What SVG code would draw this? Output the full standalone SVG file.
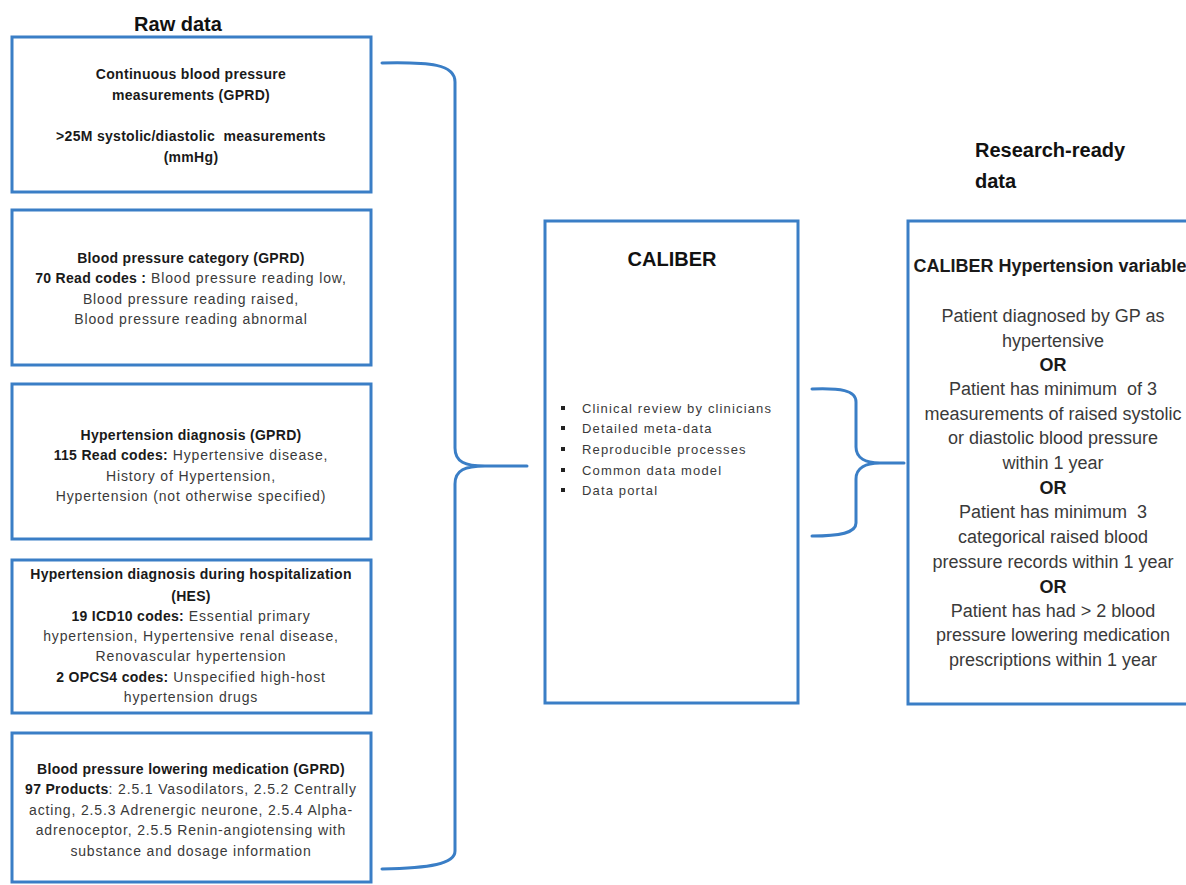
<svg xmlns="http://www.w3.org/2000/svg" width="1186" height="885" viewBox="0 0 1186 885">
<style>
.box{fill:#fff;stroke:#3a7ec6;stroke-width:3}
.br{fill:none;stroke:#3a7ec6;stroke-width:3;stroke-linecap:round;stroke-linejoin:round}
text{font-family:"Liberation Sans",Arial,sans-serif;fill:#3a3a3a}
.l{font-size:14px;text-anchor:middle;letter-spacing:0.85px}
.b{font-weight:bold;fill:#1a1a1a;letter-spacing:0.3px}
.h{font-size:20px;font-weight:bold;fill:#111}
.bu{font-size:13px;letter-spacing:1.15px}
.r{font-size:18px;text-anchor:middle}
.rb{font-weight:bold;fill:#1a1a1a}
</style>
<rect width="1186" height="885" fill="#fff"/>
<text class="h" x="178" y="31" text-anchor="middle">Raw data</text>
<text class="h" x="975" y="157">Research-ready</text>
<text class="h" x="975" y="188">data</text>

<g id="n1">
<rect class="box" x="12" y="37" width="359" height="155"/>
<text class="l b" x="191" y="79">Continuous blood pressure</text>
<text class="l b" x="191" y="100">measurements (GPRD)</text>
<text class="l b" x="191" y="141">&gt;25M systolic/diastolic&#160; measurements</text>
<text class="l b" x="191" y="162">(mmHg)</text>
</g>
<g id="n2">
<rect class="box" x="12" y="210" width="359" height="155"/>
<text class="l b" x="191" y="263">Blood pressure category (GPRD)</text>
<text class="l" x="191" y="283"><tspan class="b">70 Read codes :</tspan> Blood pressure reading low,</text>
<text class="l" x="191" y="304">Blood pressure reading raised,</text>
<text class="l" x="191" y="324">Blood pressure reading abnormal</text>
</g>
<g id="n3">
<rect class="box" x="12" y="384" width="359" height="155"/>
<text class="l b" x="191" y="440">Hypertension diagnosis (GPRD)</text>
<text class="l" x="191" y="460"><tspan class="b">115 Read codes:</tspan> Hypertensive disease,</text>
<text class="l" x="191" y="481">History of Hypertension,</text>
<text class="l" x="191" y="501">Hypertension (not otherwise specified)</text>
</g>
<g id="n4">
<rect class="box" x="12" y="560" width="359" height="153"/>
<text class="l b" x="191" y="579">Hypertension diagnosis during hospitalization</text>
<text class="l b" x="191" y="601">(HES)</text>
<text class="l" x="191" y="621"><tspan class="b">19 ICD10 codes:</tspan> Essential primary</text>
<text class="l" x="191" y="641">hypertension, Hypertensive renal disease,</text>
<text class="l" x="191" y="661">Renovascular hypertension</text>
<text class="l" x="191" y="682"><tspan class="b">2 OPCS4 codes:</tspan> Unspecified high-host</text>
<text class="l" x="191" y="702">hypertension drugs</text>
</g>
<g id="n5">
<rect class="box" x="12" y="733" width="359" height="149"/>
<text class="l b" x="191" y="774">Blood pressure lowering medication (GPRD)</text>
<text class="l" x="191" y="794"><tspan class="b">97 Products</tspan>: 2.5.1 Vasodilators, 2.5.2 Centrally</text>
<text class="l" x="191" y="815">acting, 2.5.3 Adrenergic neurone, 2.5.4 Alpha-</text>
<text class="l" x="191" y="835">adrenoceptor, 2.5.5 Renin-angiotensing with</text>
<text class="l" x="191" y="856">substance and dosage information</text>
</g>

<g id="caliber">
<rect class="box" x="545" y="221" width="253" height="482"/>
<text class="h" x="672" y="266" text-anchor="middle">CALIBER</text>
<g fill="#222">
<rect x="561" y="406" width="4" height="4"/>
<rect x="561" y="426" width="4" height="4"/>
<rect x="561" y="447" width="4" height="4"/>
<rect x="561" y="468" width="4" height="4"/>
<rect x="561" y="488" width="4" height="4"/>
</g>
<text class="bu" x="582" y="413">Clinical review by clinicians</text>
<text class="bu" x="582" y="433">Detailed meta-data</text>
<text class="bu" x="582" y="454">Reproducible processes</text>
<text class="bu" x="582" y="475">Common data model</text>
<text class="bu" x="582" y="495">Data portal</text>
</g>

<g id="result">
<rect class="box" x="908" y="221" width="300" height="483"/>
<text class="r rb" x="1050" y="272" font-size="15.8">CALIBER Hypertension variable</text>
<text class="r" x="1053" y="322">Patient diagnosed by GP as</text>
<text class="r" x="1053" y="347">hypertensive</text>
<text class="r rb" x="1053" y="371">OR</text>
<text class="r" x="1053" y="395">Patient has minimum&#160; of 3</text>
<text class="r" x="1053" y="420">measurements of raised systolic</text>
<text class="r" x="1053" y="444">or diastolic blood pressure</text>
<text class="r" x="1053" y="469">within 1 year</text>
<text class="r rb" x="1053" y="494">OR</text>
<text class="r" x="1053" y="518">Patient has minimum&#160; 3</text>
<text class="r" x="1053" y="543">categorical raised blood</text>
<text class="r" x="1053" y="568">pressure records within 1 year</text>
<text class="r rb" x="1053" y="593">OR</text>
<text class="r" x="1053" y="617">Patient has had &gt; 2 blood</text>
<text class="r" x="1053" y="641">pressure lowering medication</text>
<text class="r" x="1053" y="666">prescriptions within 1 year</text>
</g>

<g id="connectors">
<path class="br" d="M382 63 C430 62 455 64 455 82 L455 448 C455 462 465 466 485 466 L527 466 M485 466 C465 466 455 470 455 484 L455 851 C455 864 430 868 382 869"/>
<path class="br" d="M812 389 C840 388 856 390 856 402 L856 447 C856 458 866 463 880 463 L904 463 M880 463 C866 463 856 468 856 479 L856 523 C856 533 840 536 812 536"/>
</g>
</svg>
